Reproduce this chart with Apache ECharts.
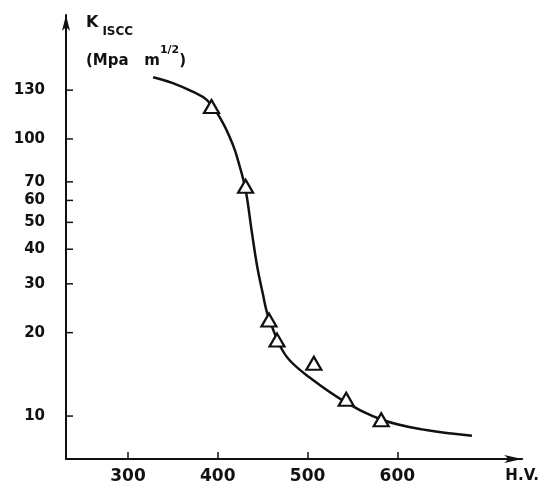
<!DOCTYPE html>
<html>
<head>
<meta charset="utf-8">
<title>K ISCC vs H.V.</title>
<script src="https://cdn.jsdelivr.net/npm/echarts@6/dist/echarts.min.js"></script>
<style>
  html, body { margin: 0; padding: 0; background: #fff; }
  #chart { width: 542px; height: 492px; }
</style>
</head>
<body>
<div id="chart"></div>
<script>
// fitted curve
var hvCurve = [328, 350, 372, 388, 404, 417, 424, 431, 438, 444, 450, 455, 461, 469, 480, 502, 539, 583, 632, 683];
var kCurve  = [167, 159, 148, 138, 117, 95, 80.5, 65.5, 46, 34.5, 27.8, 23.5, 20.8, 18, 15.9, 13.8, 11.4, 9.7, 8.9, 8.5];

// measured points (triangles)
var hvPoints = [393, 431, 457, 466, 507, 543, 582];
var kPoints  = [131, 67.5, 22.2, 18.8, 15.5, 11.5, 9.7];

// axis ticks
var xTicks = [300, 400, 500, 600];
var yTicks = [10, 20, 30, 40, 50, 60, 70, 100, 150];
var yTickLabels = ['10', '20', '30', '40', '50', '60', '70', '100', '130']; // as printed

var xMin = 231, xMax = 739;
var yMin = 7, yMax = 280;

var ink = '#111';
var font = 'DejaVu Sans';

function pairs(xs, ys) {
  return xs.map(function (x, i) { return [x, ys[i]]; });
}

var myChart = echarts.init(document.getElementById('chart'));

var option = {
  backgroundColor: '#fff',
  animation: false,
  title: {
    left: 81,
    top: 10,
    text: '{k|K}{s|ISCC}\n{p|(Mpa   m}{sup|1/2}{p|)}',
    textStyle: {
      rich: {
        k:   { fontFamily: font, fontWeight: 'bold', fontSize: 16, color: ink, lineHeight: 30, verticalAlign: 'top' },
        s:   { fontFamily: font, fontWeight: 'bold', fontSize: 12, color: ink, lineHeight: 30, verticalAlign: 'middle', padding: [4, 0, 0, 4] },
        p:   { fontFamily: font, fontWeight: 'bold', fontSize: 15, color: ink, lineHeight: 24, verticalAlign: 'bottom' },
        sup: { fontFamily: font, fontWeight: 'bold', fontSize: 11, color: ink, lineHeight: 24, verticalAlign: 'top' }
      }
    }
  },
  grid: { left: 66, right: 19, top: 15, bottom: 33 },
  xAxis: {
    type: 'value',
    min: xMin,
    max: xMax,
    name: 'H.V.',
    nameLocation: 'end',
    nameGap: 0,
    nameTextStyle: {
      fontFamily: font, fontWeight: 'bold', fontSize: 15, color: ink,
      align: 'center', verticalAlign: 'top', padding: [10, 0, 0, 0]
    },
    axisLine: { lineStyle: { color: ink, width: 2 }, symbol: ['none', 'arrow'], symbolSize: [6, 18] },
    axisTick: { customValues: xTicks, inside: true, length: 7, lineStyle: { color: ink, width: 1.5 } },
    axisLabel: { customValues: xTicks, margin: 9, fontFamily: font, fontWeight: 'bold', fontSize: 17, color: ink },
    splitLine: { show: false }
  },
  yAxis: {
    type: 'log',
    logBase: 10,
    min: yMin,
    max: yMax,
    axisLine: { lineStyle: { color: ink, width: 2 }, symbol: ['none', 'arrow'], symbolSize: [6, 16] },
    axisTick: { show: false },
    axisLabel: { show: false },
    splitLine: { show: false },
    minorTick: { show: false },
    minorSplitLine: { show: false }
  },
  series: [
    {
      // y ticks with their labels, placed on the axis
      type: 'scatter',
      clip: false,
      silent: true,
      data: yTicks.map(function (v) { return [xMin, v]; }),
      symbol: 'rect',
      symbolSize: [7, 1.5],
      symbolOffset: [3.5, 0],
      itemStyle: { color: ink, opacity: 1 },
      label: {
        show: true,
        position: 'left',
        distance: 21,
        formatter: function (p) { return yTickLabels[p.dataIndex]; },
        fontFamily: font, fontWeight: 'bold', fontSize: 15, color: ink
      },
      z: 3
    },
    {
      type: 'line',
      data: pairs(hvCurve, kCurve),
      smooth: 0.4,
      showSymbol: false,
      lineStyle: { color: ink, width: 2.5 },
      z: 2
    },
    {
      type: 'scatter',
      data: pairs(hvPoints, kPoints),
      symbol: 'triangle',
      symbolSize: [15, 13],
      itemStyle: { color: '#fff', borderColor: ink, borderWidth: 2.2, opacity: 1 },
      z: 4
    }
  ]
};

myChart.setOption(option);
</script>
</body>
</html>
